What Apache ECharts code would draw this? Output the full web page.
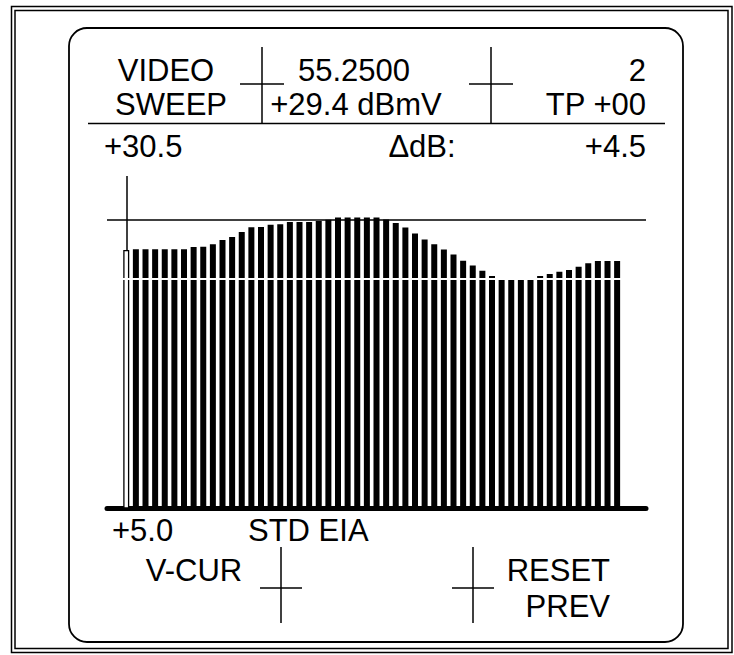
<!DOCTYPE html>
<html>
<head>
<meta charset="utf-8">
<script src="https://cdn.jsdelivr.net/npm/echarts@6/dist/echarts.min.js"></script>
<style>
html,body{margin:0;padding:0;background:#fff;}
#chart{width:734px;height:655px;}
</style>
</head>
<body>
<div id="chart"></div>
<script>
// ---- data ----
const sweepPoints = [0,1,2,3,4,5,6,7,8,9,10,11,12,13,14,15,16,17,18,19,20,21,22,23,24,25,
  26,27,28,29,30,31,32,33,34,35,36,37,38,39,40,41,42,43,44,45,46,47,48,49,50,51];
const sweepLevels = [27.84,27.91,27.91,27.91,27.91,27.91,27.91,28.11,28.14,28.35,28.73,29.00,29.44,29.85,29.88,30.08,
  30.12,30.32,30.32,30.32,30.41,30.52,30.72,30.72,30.72,30.72,30.72,30.54,30.23,29.84,29.30,28.77,
  28.35,27.89,27.45,26.90,26.47,26.01,25.54,25.25,25.25,25.25,25.25,25.54,25.72,25.92,26.07,26.37,
  26.67,26.87,26.87,26.87];
const scaleBottom = 5.0;
const scaleTop = 35;
const refLevel = 30.5;
const minLevel = 25.34;
const cursorIndex = 0;
const cursorTopLevel = 34.4;
const headerLeft = ['VIDEO', 'SWEEP'];
const headerMid = ['55.2500', '+29.4 dBmV'];
const headerRight = ['2', 'TP +00'];
const readoutRow = ['+30.5', '\u0394dB:', '+4.5'];
const footerRow = ['+5.0', 'STD EIA'];
const softKeys = ['V-CUR', 'RESET', 'PREV'];

// ---- chart ----
const chart = echarts.init(document.getElementById('chart'), null, {renderer: 'svg'});
const FONT = 'Liberation Sans, Arial, Helvetica, sans-serif';
const FS = 31;
function txt(s, x, y, align) {
  return {type: 'text', x: x, y: y, style: {text: s, fill: '#000', fontSize: FS, fontFamily: FONT, align: align, verticalAlign: 'middle'}};
}
function ln(x1, y1, x2, y2, w) {
  return {type: 'line', shape: {x1: x1, y1: y1, x2: x2, y2: y2}, style: {stroke: '#000', lineWidth: w || 1.5}};
}

const barData = sweepPoints.map(function (p, i) {
  const item = {value: [p, sweepLevels[i]]};
  if (p === cursorIndex) item.itemStyle = {color: '#fff', borderColor: '#000', borderWidth: 1.3};
  return item;
});

chart.setOption({
  animation: false,
  backgroundColor: '#fff',
  grid: {left: 107, right: 88, top: 169.18, bottom: 147},
  xAxis: {type: 'value', min: -2, max: 54, axisLine: {show: true, onZero: false, lineStyle: {color: '#000', width: 5}},
    axisTick: {show: false}, axisLabel: {show: false}, splitLine: {show: false}},
  yAxis: {type: 'value', min: scaleBottom, max: scaleTop, show: false, splitLine: {show: false}},
  series: [{
    type: 'bar',
    barWidth: 6,
    clip: true,
    itemStyle: {color: '#000'},
    data: barData,
    markLine: {
      silent: true,
      symbol: ['none', 'none'],
      label: {show: false},
      data: [
        {yAxis: refLevel, lineStyle: {color: '#000', width: 1.5, type: 'solid'}},
        {yAxis: minLevel, lineStyle: {color: '#fff', width: 2, type: 'solid'}},
        [{coord: [cursorIndex, cursorTopLevel], lineStyle: {color: '#000', width: 1.5, type: 'solid'}},
         {coord: [cursorIndex, sweepLevels[cursorIndex]]}]
      ]
    }
  }],
  graphic: [
    {type: 'rect', shape: {x: 11.5, y: 6.5, width: 720.5, height: 646}, style: {fill: 'none', stroke: '#000', lineWidth: 1.5}},
    {type: 'rect', shape: {x: 15, y: 10.5, width: 713, height: 638}, style: {fill: 'none', stroke: '#000', lineWidth: 1.5}},
    {type: 'rect', shape: {x: 69, y: 28, width: 614, height: 614, r: 18}, style: {fill: 'none', stroke: '#000', lineWidth: 1.8}},
    ln(262, 47, 262, 123), ln(240, 84, 284, 84),
    ln(491, 47, 491, 123), ln(469, 84, 513, 84),
    ln(88, 123.5, 665, 123.5),
    ln(281, 547, 281, 623), ln(260, 588, 302, 588),
    ln(473, 547, 473, 623), ln(452, 588, 494, 588),
    txt(headerLeft[0], 166, 70, 'center'),
    txt(headerLeft[1], 171, 104, 'center'),
    txt(headerMid[0], 354, 70, 'center'),
    txt(headerMid[1], 356, 104, 'center'),
    txt(headerRight[0], 646, 70, 'right'),
    txt(headerRight[1], 646, 104, 'right'),
    txt(readoutRow[0], 104, 146, 'left'),
    txt(readoutRow[1], 422, 146, 'center'),
    txt(readoutRow[2], 646, 146, 'right'),
    txt(footerRow[0], 112, 530, 'left'),
    txt(footerRow[1], 248, 530, 'left'),
    txt(softKeys[0], 194, 570, 'center'),
    txt(softKeys[1], 610, 570, 'right'),
    txt(softKeys[2], 610, 606, 'right')
  ]
});
</script>
</body>
</html>
